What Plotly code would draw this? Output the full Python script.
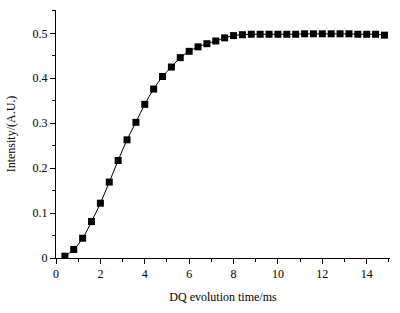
import plotly.graph_objects as go

time_ms = [0.4, 0.8, 1.2, 1.6, 2.0, 2.4, 2.8, 3.2, 3.6, 4.0, 4.4, 4.8, 5.2, 5.6, 6.0, 6.4,
           6.8, 7.2, 7.6, 8.0, 8.4, 8.8, 9.2, 9.6, 10.0, 10.4, 10.8, 11.2, 11.6, 12.0,
           12.4, 12.8, 13.2, 13.6, 14.0, 14.4, 14.8]
intensity = [0.004, 0.019, 0.044, 0.081, 0.122, 0.169, 0.217, 0.263, 0.302, 0.342, 0.376,
             0.404, 0.425, 0.446, 0.460, 0.470, 0.477, 0.483, 0.490, 0.495, 0.497, 0.498,
             0.498, 0.498, 0.498, 0.498, 0.498, 0.499, 0.499, 0.499, 0.499, 0.499, 0.499,
             0.498, 0.498, 0.498, 0.496]

fig = go.Figure()
fig.add_trace(go.Scatter(
    x=time_ms, y=intensity, mode="lines+markers",
    line=dict(color="black", width=1, shape="spline"),
    marker=dict(symbol="square", size=7, color="black"),
))

font = dict(family="Liberation Serif, Times New Roman, serif", size=12, color="black")
fig.update_layout(
    width=400, height=313,
    margin=dict(l=56, r=10, t=10, b=55, autoexpand=False),
    paper_bgcolor="white", plot_bgcolor="white",
    showlegend=False, font=font,
)
fig.update_xaxes(
    range=[0, 15.05], tickvals=[0, 2, 4, 6, 8, 10, 12, 14], automargin=False,
    ticks="outside", ticklen=5, tickwidth=1, tickcolor="black",
    minor=dict(tickvals=[1, 3, 5, 7, 9, 11, 13, 15], ticks="outside", ticklen=3, tickcolor="black"),
    showline=True, linecolor="black", linewidth=1, showgrid=False, zeroline=False,
    title=dict(text="DQ evolution time/ms", font=font, standoff=12),
)
fig.update_yaxes(
    range=[0, 0.552], tickvals=[0, 0.1, 0.2, 0.3, 0.4, 0.5], automargin=False,
    ticktext=["0", "0.1", "0.2", "0.3", "0.4", "0.5"],
    ticks="outside", ticklen=5, tickwidth=1, tickcolor="black",
    minor=dict(tickvals=[0.05, 0.15, 0.25, 0.35, 0.45, 0.55], ticks="outside", ticklen=3, tickcolor="black"),
    showline=True, linecolor="black", linewidth=1, showgrid=False, zeroline=False,
    title=dict(text="Intensity/(A.U.)", font=font, standoff=14),
)
fig.write_html("out.html", config={"displayModeBar": False},
               post_script="document.body.style.margin='0';")
